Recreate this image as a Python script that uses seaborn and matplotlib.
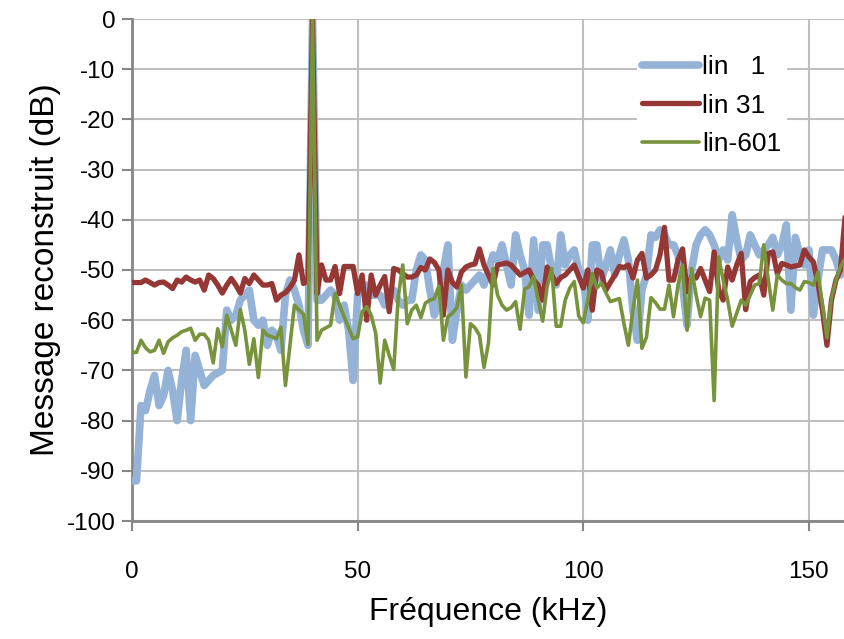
import numpy as np
import pandas as pd
import matplotlib
matplotlib.use("Agg")
import matplotlib.pyplot as plt
import seaborn as sns

# frequency axis, 1 kHz steps
freq_khz = list(range(0, 159))

lin_1 = [
    -92, -92, -77, -78, -74, -71, -77, -75, -70, -74,
    -80, -72, -66, -80, -67, -70, -73, -72, -71, -70.5,
    -70, -58, -60, -59, -56, -55, -54, -60, -61, -60,
    -65, -62, -63, -66, -55, -52, -54, -57, -62, -65,
    0, -56, -56, -55, -54, -55, -60, -57, -62, -72,
    -55, -54, -53, -55, -55, -55, -57, -55, -54, -56,
    -57, -56, -56, -50, -47, -48, -54, -59, -56, -50,
    -45, -64, -58, -53, -54, -53, -52, -51, -53, -50,
    -47, -48, -45, -49, -53, -43, -47, -50, -59, -44,
    -58, -45, -45, -50, -53, -43, -49, -47, -46, -50,
    -51, -60, -45, -45, -52, -49, -46, -51, -47, -44,
    -48, -58, -64, -54, -51, -43, -43.5, -42, -43, -45,
    -45, -47, -53, -61, -50, -45, -43, -42, -43, -45,
    -48, -46, -48, -39, -44, -48, -47, -43, -45, -47,
    -46, -45, -43.5, -47, -45, -41, -58, -43.5, -47, -49,
    -46, -59, -52, -46, -46, -46, -48, -51, -46,
]

lin_31 = [
    -52.5, -52.5, -52.5, -52, -52.5, -53, -52.5, -52.4, -53, -53.7,
    -52, -52.4, -51.4, -52, -52.4, -52, -54, -51, -51.7, -53,
    -54.6, -53, -51.7, -53, -54.6, -51.7, -52.7, -51, -52, -53,
    -53, -52.7, -56, -55, -54.5, -53.5, -52, -47, -52.7, -52,
    0, -54.7, -49, -52, -52, -49.3, -54.7, -49.3, -49.3, -49.3,
    -54.7, -51, -60, -51, -55, -53, -51.3, -58.3, -49.7, -50,
    -50.7, -51.4, -51.4, -51, -49.5, -50, -47.8, -48.5, -50, -59,
    -50, -52.5, -53.4, -50.4, -49.4, -49, -48.8, -45.8, -49, -51,
    -53, -49, -48.8, -48.6, -49, -50, -51, -50.5, -50, -52,
    -53, -56, -49.4, -51, -52.7, -51.5, -51, -50, -49, -51.3,
    -53.6, -50, -58, -50, -50.5, -54, -52.5, -51, -49.3, -49.5,
    -49, -51.6, -48, -46.7, -51.6, -51, -50, -47, -41.5, -52,
    -52, -48, -45.8, -54.3, -51.3, -51.6, -49.7, -52, -54.3, -46.4,
    -54, -56, -49.4, -52, -49, -46.7, -57.9, -52.3, -51.5, -51,
    -55, -46.7, -46.4, -50.7, -48.7, -49, -49.4, -49.2, -49, -46,
    -47.4, -48.4, -52.6, -58, -65, -56, -52, -50, -39.5,
]

lin_601 = [
    -66.4, -66.4, -64, -65.5, -66.3, -66, -64, -66.6, -64.3, -63.5,
    -63, -62.3, -62, -61.6, -64, -62.8, -62.8, -64, -68.5, -61.7,
    -65.3, -59, -62, -65, -57.9, -62, -68.8, -63.7, -71.4, -62,
    -63, -63.3, -63.7, -61.4, -73, -65, -57, -58, -58.8, -64.8,
    0, -64, -62, -61.5, -61, -54.7, -57, -59.3, -61.5, -63.7,
    -63.3, -58.3, -57.3, -59, -62.6, -72.5, -64, -67, -69.8, -55.3,
    -49, -60.7, -58, -57, -59.5, -56.6, -56, -55.7, -53.2, -64,
    -59.3, -58.6, -57.5, -53, -71.3, -60.7, -61.5, -63, -69.4, -64.5,
    -49.7, -55, -57, -58, -57.5, -56.3, -61.8, -53.8, -53.3, -51.3,
    -56, -60.2, -53.3, -49.7, -61.2, -61.2, -56, -53.6, -52.3, -59.2,
    -60.5, -56, -50.7, -53.6, -52.6, -54.5, -56.3, -56, -55.7, -60.6,
    -65, -58, -52, -65.6, -63.4, -55.5, -56.5, -57.8, -57.8, -53,
    -59.3, -53, -49, -62, -49.7, -55, -59.3, -55.6, -56, -76,
    -47.4, -52, -56, -61.2, -58.6, -56, -57, -55, -53, -52.7,
    -45, -52, -58, -51, -52, -52.7, -52.7, -53.5, -54, -52.3,
    -52.5, -53, -50.4, -57, -63.5, -55.6, -52, -49.4, -47.7,
]

labels = ["lin   1", "lin 31", "lin-601"]
colors = ["#95B3D7", "#953735", "#77933C"]
widths = [5.5, 3.8, 2.6]

df = pd.DataFrame({"freq": freq_khz, labels[0]: lin_1, labels[1]: lin_31, labels[2]: lin_601})

sns.set_theme(style="white")
plt.rcParams["font.family"] = ["Liberation Sans", "DejaVu Sans"]
plt.rcParams["axes.unicode_minus"] = False
plt.rcParams["text.color"] = "black"
plt.rcParams["axes.labelcolor"] = "black"
plt.rcParams["xtick.color"] = "black"
plt.rcParams["ytick.color"] = "black"

fig = plt.figure(figsize=(8.45, 6.39), dpi=100)
ax = fig.add_axes([132 / 845, 118 / 639, 713 / 845, 502 / 639])

for lab, col, lw in zip(labels, colors, widths):
    sns.lineplot(data=df, x="freq", y=lab, ax=ax, color=col, linewidth=lw,
                 label=lab, solid_capstyle="round", solid_joinstyle="round")

ax.set_xlim(0, 158)
ax.set_ylim(-100, 0)
ax.set_yticks(np.arange(-100, 1, 10))
ax.set_xticks([0, 50, 100, 150])
ax.grid(True, color="#BFBFBF", linewidth=1.5)
ax.set_axisbelow(True)

for s in ["top", "right"]:
    ax.spines[s].set_visible(False)
for s in ["left", "bottom"]:
    ax.spines[s].set_color("#868686")
    ax.spines[s].set_linewidth(2)
    ax.spines[s].set_zorder(1)

ax.tick_params(axis="y", direction="out", length=7, width=1.5, color="#868686",
               labelcolor="black", labelsize=17.5, pad=5, left=True)
ax.tick_params(axis="x", direction="out", length=7, width=1.5, color="#868686",
               labelcolor="black", labelsize=17.5, pad=22, bottom=True)

ax.set_xlabel("Fréquence (kHz)", fontsize=23, labelpad=10)
ax.set_ylabel("Message reconstruit (dB)", fontsize=24, labelpad=4)

leg = ax.legend(loc="upper left", bbox_to_anchor=(0.69, 0.965), frameon=True, fontsize=19,
                handlelength=2.15, handletextpad=0.12, labelspacing=0.55, borderpad=0.2)
leg.get_frame().set_facecolor("white")
leg.get_frame().set_edgecolor("none")
leg.get_frame().set_alpha(1)

fig.savefig("out.png", dpi=100)
